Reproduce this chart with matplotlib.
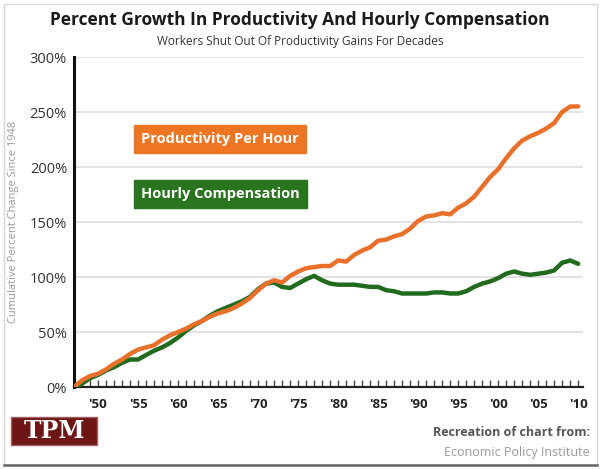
import matplotlib
matplotlib.use("Agg")
import matplotlib.pyplot as plt
import matplotlib.patches as mpatches
from matplotlib.ticker import FixedLocator, MultipleLocator

#############################################################
# Data - cumulative percent change since 1948
#############################################################

years = list(range(1947, 2011))

productivity = [0, 6, 10, 12, 16, 21, 25, 30, 34, 36,
                38, 43, 47, 50, 53, 57, 60, 64, 67, 69,
                72, 76, 81, 88, 94, 97, 95, 101, 105, 108,
                109, 110, 110, 115, 114, 120, 124, 127, 133, 134,
                137, 139, 144, 151, 155, 156, 158, 157, 163, 167,
                173, 182, 191, 198, 208, 217, 224, 228, 231, 235,
                240, 250, 255, 255]

compensation = [0, 3, 8, 11, 15, 18, 22, 25, 25, 29,
                33, 36, 40, 45, 51, 56, 60, 65, 69, 72,
                75, 78, 82, 89, 94, 95, 91, 90, 94, 98,
                101, 97, 94, 93, 93, 93, 92, 91, 91, 88,
                87, 85, 85, 85, 85, 86, 86, 85, 85, 87,
                91, 94, 96, 99, 103, 105, 103, 102, 103, 104,
                106, 113, 115, 112]

tick_years = [1950, 1955, 1960, 1965, 1970, 1975, 1980, 1985, 1990, 1995, 2000, 2005, 2010]
tick_labels = ["'50", "'55", "'60", "'65", "'70", "'75", "'80", "'85", "'90", "'95", "'00", "'05", "'10"]
y_ticks = [0, 50, 100, 150, 200, 250, 300]
y_labels = ["0%", "50%", "100%", "150%", "200%", "250%", "300%"]

#############################################################
# Style
#############################################################

col_orange = "#E8702A"
col_green = "#226B1E"
col_box_orange = "#EE7623"
col_box_green = "#2A741F"

plt.rcParams['font.family'] = ['Open Sans', 'DejaVu Sans']

W, H = 600.0, 469.0

def fx(px):
    return px / W

def fy(py):
    return 1 - py / H

fig = plt.figure(figsize=(6.0, 4.69), dpi=100)
fig.patch.set_facecolor("white")

# outer frame of the graphic
fig.patches.append(mpatches.Rectangle((fx(4), fy(465)), fx(593), 461 / H,
                                      transform=fig.transFigure, fill=False,
                                      edgecolor="#d6d6d6", lw=1.0))
fig.add_artist(plt.Line2D([fx(4), fx(597)], [fy(465), fy(465)],
                          transform=fig.transFigure, color="#666666", lw=1.8))

ax = fig.add_axes([fx(74), fy(387), 509 / W, 330 / H])

ax.plot(years, compensation, color=col_green, lw=3.2, solid_capstyle="round", zorder=3)
ax.plot(years, productivity, color=col_orange, lw=3.2, solid_capstyle="round", zorder=4)

ax.set_xlim(1947, 2010.6)
ax.set_ylim(0, 300)

ax.set_yticks(y_ticks)
ax.set_yticklabels(y_labels, fontsize=10.5, color="#333333")
ax.tick_params(axis="y", length=0, pad=5)

ax.xaxis.set_major_locator(FixedLocator(tick_years))
ax.set_xticklabels(tick_labels, fontsize=9.5, fontweight="bold", color="#222222")
ax.xaxis.set_minor_locator(MultipleLocator(1))
ax.tick_params(axis="x", which="both", direction="in", length=5, width=1,
               color="#444444", pad=8)

ax.grid(axis="y", color="#dddddd", lw=1.2)
ax.set_axisbelow(True)
for s in ["top", "right"]:
    ax.spines[s].set_visible(False)
ax.spines["left"].set_linewidth(2.2)
ax.spines["left"].set_color("#111111")
ax.spines["bottom"].set_linewidth(1.6)
ax.spines["bottom"].set_color("#222222")

ax.set_ylabel("Cumulative Percent Change Since 1948", fontsize=8, color="#999999", labelpad=8)

# legend boxes
ax.text(1955.4, 225.5, "Productivity Per Hour", fontsize=10.5, fontweight="bold", color="white",
        ha="left", va="center", zorder=5,
        bbox=dict(boxstyle="square,pad=0.5", facecolor=col_box_orange, edgecolor=col_box_orange))
ax.text(1955.4, 175.5, "Hourly Compensation", fontsize=10.5, fontweight="bold", color="white",
        ha="left", va="center", zorder=5,
        bbox=dict(boxstyle="square,pad=0.5", facecolor=col_box_green, edgecolor=col_box_green))

# titles
fig.text(0.5, fy(20), "Percent Growth In Productivity And Hourly Compensation",
         fontsize=12.5, fontweight="bold", color="#1a1a1a", ha="center", va="center")
fig.text(0.5, fy(41), "Workers Shut Out Of Productivity Gains For Decades",
         fontsize=8.5, color="#333333", ha="center", va="center")

# footer
fig.patches.append(mpatches.Rectangle((fx(11), fy(445)), 86 / W, 28 / H,
                                      transform=fig.transFigure, facecolor="#6e1515",
                                      edgecolor="#a06060", lw=1))
fig.text(fx(54), fy(431), "TPM", fontsize=17, fontweight="bold", color="white",
         family="DejaVu Serif", ha="center", va="center")
fig.text(fx(590), fy(432), "Recreation of chart from:", fontsize=9,
         fontweight="bold", color="#555555", ha="right", va="center")
fig.text(fx(590), fy(452), "Economic Policy Institute", fontsize=9,
         color="#999999", ha="right", va="center")

plt.savefig("out.png", dpi=100)
